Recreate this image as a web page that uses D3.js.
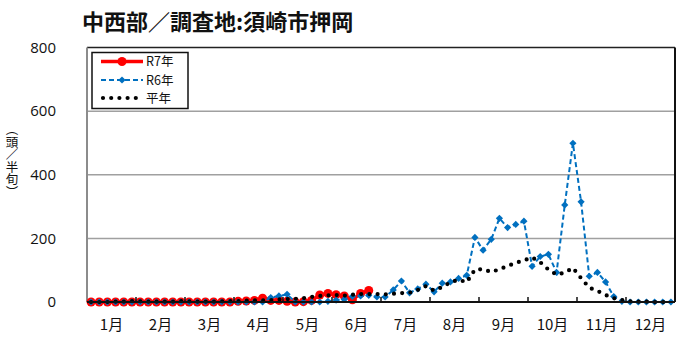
<!DOCTYPE html>
<html lang="ja">
<head>
<meta charset="utf-8">
<script src="https://cdn.jsdelivr.net/npm/d3@7/dist/d3.min.js"></script>
<style>
  html, body { margin: 0; padding: 0; background: #fff; }
  svg { display: block; font-family: "Noto Sans CJK JP", "Noto Sans", sans-serif; }
</style>
</head>
<body>
<svg id="chart" width="700" height="350"></svg>
<script>
// 半旬 (5-day) periods: 6 per month, 72 per year
const months = ["1月","2月","3月","4月","5月","6月","7月","8月","9月","10月","11月","12月"];
const yTicks = [0, 200, 400, 600, 800];
const seriesNames = ["R7年", "R6年", "平年"];

// R7 (current year, through early July)
const r7 = [
  0,0,0,0,0,0,  0,0,0,0,0,0,  0,0,0,0,0,0,
  2,3,5,12,5,5,  2,0,1,5,22,27,  23,19,7,27,36
];

// R6 (previous year)
const r6 = [
  0,0,0,0,0,0,  0,0,0,0,0,0,  0,0,0,0,0,0,
  0,0,0,0,14,19,  24,0,0,0,0,2,  6,8,18,19,21,16,
  16,38,66,29,41,56,  32,59,63,74,84,203,  163,197,263,234,244,254,
  112,143,150,93,305,499,  315,81,93,63,17,2,  0,0,0,0,0,0
];

// 平年 (normal year average)
const avg = [
  0,0,0,1,1,3,  2,1,1,1,1,3,  2,1,1,1,2,3,
  3,4,5,5,6,8,  9,10,12,16,19,21,  22,20,23,25,25,25,
  24,26,28,29,38,50,  36,47,62,70,62,102,  103,94,103,113,123,131,
  140,125,102,86,92,107,  75,45,35,22,12,6,  2,1,1,0,0,0
];

const svg = d3.select("#chart");
const plot = { left: 87, right: 675, top: 47.5, bottom: 302 };

const periods = d3.range(72);
const x = d3.scalePoint().domain(periods).range([plot.left, plot.right]).padding(0.5);
const xm = d3.scaleBand().domain(months).range([plot.left, plot.right]).padding(0);
const y = d3.scaleLinear().domain([0, 800]).range([plot.bottom, plot.top]);

// Title
svg.append("text")
  .attr("x", 82).attr("y", 30)
  .attr("font-size", 22).attr("font-weight", "bold").attr("fill", "#111")
  .text("中西部／調査地:須崎市押岡");

// Gridlines
svg.append("g").selectAll("line")
  .data(yTicks.filter(v => v > 0 && v < 800))
  .join("line")
  .attr("x1", plot.left).attr("x2", plot.right)
  .attr("y1", d => y(d)).attr("y2", d => y(d))
  .attr("stroke", "#a0a0a0").attr("stroke-width", 1.5);

// Plot frame
svg.append("line").attr("x1", plot.left).attr("x2", plot.right)
  .attr("y1", plot.top).attr("y2", plot.top).attr("stroke", "#222").attr("stroke-width", 1.5);
svg.append("line").attr("x1", plot.right).attr("x2", plot.right)
  .attr("y1", plot.top).attr("y2", plot.bottom).attr("stroke", "#111").attr("stroke-width", 2);
svg.append("line").attr("x1", plot.left).attr("x2", plot.left)
  .attr("y1", plot.top).attr("y2", plot.bottom).attr("stroke", "#8c8c8c").attr("stroke-width", 2);

// Y axis labels
const yAxis = svg.append("g")
  .attr("transform", `translate(${plot.left - 31},0)`)
  .call(d3.axisLeft(y).tickValues(yTicks).tickSize(0).tickPadding(0).tickFormat(d3.format("d")));
yAxis.select(".domain").remove();
yAxis.selectAll("text").attr("font-size", 15).attr("fill", "#111")
  .attr("font-family", "'Open Sans', 'Noto Sans', sans-serif");

// Y axis title (vertical)
svg.append("text")
  .attr("x", 12).attr("y", 123)
  .attr("font-size", 12.5).attr("fill", "#111")
  .style("writing-mode", "vertical-rl")
  .text("（頭／半旬）");

// Series lines
const line = d3.line().x((d, i) => x(i)).y(d => y(d)).curve(d3.curveLinear);

svg.append("path").datum(r7).attr("d", line)
  .attr("fill", "none").attr("stroke", "#ff0000").attr("stroke-width", 3.5);
svg.append("g").selectAll("circle").data(r7).join("circle")
  .attr("cx", (d, i) => x(i)).attr("cy", d => y(d)).attr("r", 4.5)
  .attr("fill", "#ff0000");

svg.append("path").datum(r6).attr("d", line)
  .attr("fill", "none").attr("stroke", "#0070c0").attr("stroke-width", 2)
  .attr("stroke-dasharray", "5,3");
const diamond = d3.symbol(d3.symbolSquare, 26);
svg.append("g").selectAll("path").data(r6).join("path")
  .attr("d", diamond)
  .attr("transform", (d, i) => `translate(${x(i)},${y(d)}) rotate(45)`)
  .attr("fill", "#0070c0");

svg.append("path").datum(avg).attr("d", line)
  .attr("fill", "none").attr("stroke", "#000").attr("stroke-width", 4.2)
  .attr("stroke-linecap", "round").attr("stroke-dasharray", "0,8.2");

// Bottom axis with inward month ticks
svg.append("line").attr("x1", plot.left).attr("x2", plot.right)
  .attr("y1", plot.bottom).attr("y2", plot.bottom).attr("stroke", "#111").attr("stroke-width", 2);
svg.append("g").selectAll("line").data(months.slice(1)).join("line")
  .attr("x1", d => xm(d)).attr("x2", d => xm(d))
  .attr("y1", plot.bottom).attr("y2", plot.bottom - 5)
  .attr("stroke", "#111").attr("stroke-width", 1.5);
svg.append("g").selectAll("text").data(months).join("text")
  .attr("x", d => xm(d) + xm.bandwidth() / 2).attr("y", 330)
  .attr("text-anchor", "middle").attr("font-size", 15).attr("fill", "#111")
  .text(d => d);

// Legend
const lg = svg.append("g");
lg.append("rect").attr("x", 92).attr("y", 52.5).attr("width", 96).attr("height", 56)
  .attr("fill", "#fff").attr("stroke", "#111").attr("stroke-width", 1.5);
const rowY = [61.5, 80, 98];
const lx1 = 101, lx2 = 143, lmid = 122;
lg.append("line").attr("x1", lx1).attr("x2", lx2).attr("y1", rowY[0]).attr("y2", rowY[0])
  .attr("stroke", "#ff0000").attr("stroke-width", 3.5);
lg.append("circle").attr("cx", lmid).attr("cy", rowY[0]).attr("r", 4.5).attr("fill", "#ff0000");
lg.append("line").attr("x1", lx1).attr("x2", lx2).attr("y1", rowY[1]).attr("y2", rowY[1])
  .attr("stroke", "#0070c0").attr("stroke-width", 2).attr("stroke-dasharray", "5,3");
lg.append("path").attr("d", diamond)
  .attr("transform", `translate(${lmid},${rowY[1]}) rotate(45)`).attr("fill", "#0070c0");
lg.append("line").attr("x1", lx1 + 2).attr("x2", lx2).attr("y1", rowY[2]).attr("y2", rowY[2])
  .attr("stroke", "#000").attr("stroke-width", 4.2)
  .attr("stroke-linecap", "round").attr("stroke-dasharray", "0,8.2");
lg.selectAll("text.lab").data(seriesNames).join("text")
  .attr("class", "lab")
  .attr("x", 146).attr("y", (d, i) => rowY[i])
  .attr("dy", "0.36em").attr("font-size", 12.5).attr("fill", "#111")
  .text(d => d);
</script>
</body>
</html>
